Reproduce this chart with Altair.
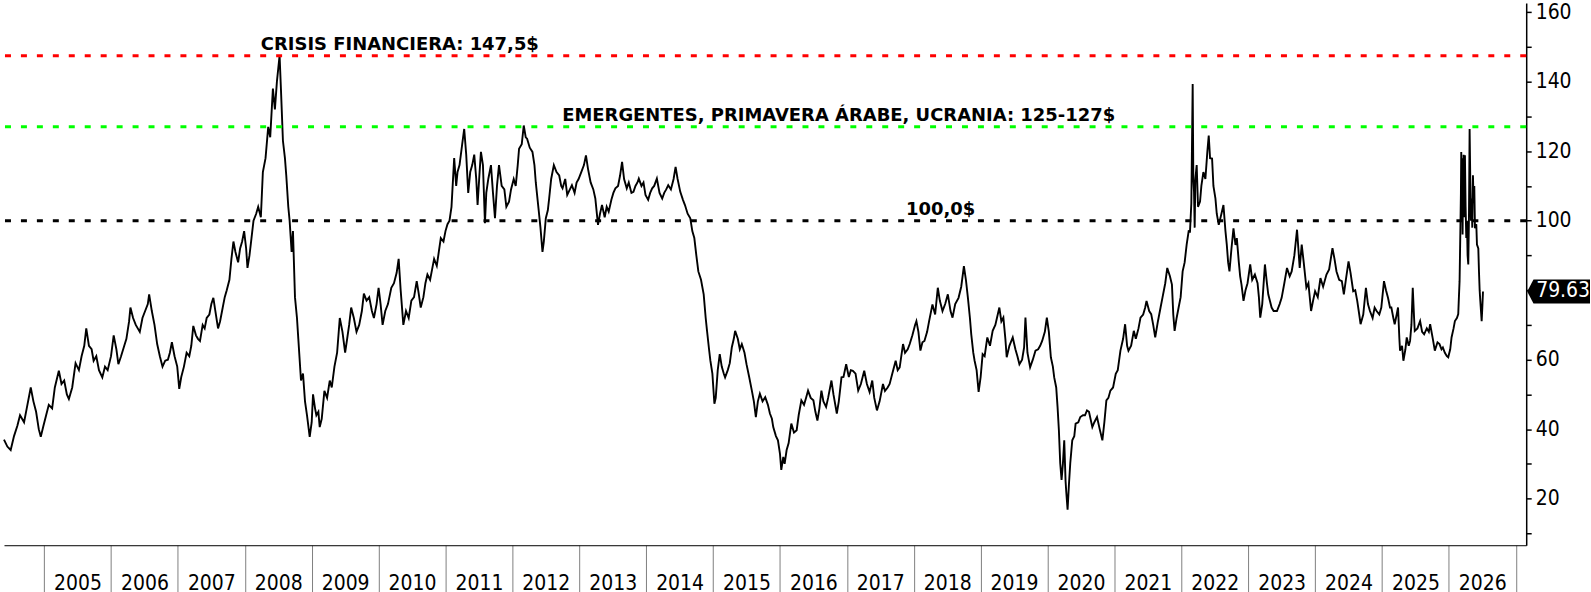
import altair as alt
import pandas as pd

# Brent crude, USD per barrel: (decimal year, price) read at roughly semi-monthly steps
BRENT_2004_2008 = [
    (2004.40, 37), (2004.45, 35), (2004.50, 34), (2004.55, 38), (2004.60, 41), (2004.64, 44),
    (2004.70, 42), (2004.74, 46), (2004.80, 52), (2004.84, 48), (2004.88, 45), (2004.92, 40),
    (2004.95, 37.8), (2004.99, 41), (2005.03, 44), (2005.07, 47), (2005.12, 46), (2005.16, 52),
    (2005.22, 56.8), (2005.26, 53), (2005.30, 54), (2005.34, 50), (2005.37, 48.7), (2005.42, 52),
    (2005.47, 59), (2005.52, 57), (2005.56, 61), (2005.60, 64), (2005.63, 69), (2005.67, 64),
    (2005.71, 63), (2005.74, 59.7), (2005.78, 61), (2005.82, 57), (2005.87, 54.9), (2005.91, 58),
    (2005.95, 57), (2006.00, 61), (2006.04, 67), (2006.08, 63), (2006.11, 58.7), (2006.15, 61),
    (2006.19, 63.5), (2006.23, 66), (2006.27, 71), (2006.29, 75), (2006.33, 72), (2006.37, 70),
    (2006.40, 69), (2006.43, 68), (2006.47, 72), (2006.51, 74), (2006.55, 76), (2006.57, 78.8),
    (2006.61, 74), (2006.65, 70), (2006.69, 64.5), (2006.73, 61), (2006.77, 58), (2006.81, 59.7),
    (2006.85, 60), (2006.88, 62), (2006.91, 65), (2006.95, 61), (2006.99, 58), (2007.02, 51.6),
    (2007.05, 55), (2007.09, 58), (2007.13, 62), (2007.17, 61), (2007.20, 64), (2007.23, 69.7),
    (2007.27, 67), (2007.30, 66), (2007.33, 65.4), (2007.37, 70), (2007.40, 69), (2007.43, 72),
    (2007.47, 73), (2007.50, 76), (2007.53, 77.8), (2007.56, 74), (2007.60, 69), (2007.63, 71),
    (2007.67, 75), (2007.70, 78), (2007.73, 80), (2007.77, 83), (2007.80, 89), (2007.83, 94),
    (2007.86, 91), (2007.90, 88), (2007.93, 92), (2007.96, 94), (2007.99, 97), (2008.02, 92),
    (2008.04, 86.4), (2008.07, 90), (2008.10, 95), (2008.13, 100), (2008.17, 102), (2008.20, 104),
]

BRENT_2008_2012 = [
    (2008.24, 101), (2008.27, 114), (2008.31, 118), (2008.35, 127), (2008.38, 124), (2008.42, 138),
    (2008.45, 132), (2008.48, 140), (2008.52, 147.5), (2008.54, 138), (2008.57, 123), (2008.60, 118),
    (2008.62, 113), (2008.65, 104), (2008.67, 100), (2008.70, 91), (2008.72, 97), (2008.75, 78),
    (2008.78, 72), (2008.80, 66), (2008.84, 54), (2008.87, 56), (2008.90, 48), (2008.93, 44),
    (2008.97, 37.8), (2009.00, 42), (2009.02, 50), (2009.05, 46), (2009.07, 44), (2009.10, 45),
    (2009.12, 40.6), (2009.15, 43), (2009.19, 51), (2009.23, 49), (2009.27, 54), (2009.30, 52),
    (2009.34, 58), (2009.38, 62), (2009.42, 72), (2009.46, 68), (2009.50, 62), (2009.53, 66),
    (2009.56, 70), (2009.59, 75), (2009.63, 72), (2009.67, 68), (2009.71, 70), (2009.75, 74),
    (2009.78, 79), (2009.82, 77), (2009.86, 78), (2009.90, 74), (2009.93, 72), (2009.97, 76),
    (2010.00, 80.7), (2010.03, 76), (2010.06, 70), (2010.10, 74), (2010.14, 76), (2010.19, 80.7),
    (2010.23, 82), (2010.27, 85), (2010.30, 89), (2010.33, 80), (2010.37, 70), (2010.41, 74),
    (2010.45, 72), (2010.49, 77), (2010.53, 78), (2010.57, 82.6), (2010.60, 79), (2010.63, 75),
    (2010.67, 78), (2010.70, 82), (2010.73, 84.5), (2010.77, 83), (2010.80, 86), (2010.83, 89),
    (2010.87, 87), (2010.90, 91), (2010.93, 95), (2010.97, 94), (2011.00, 97), (2011.03, 99),
    (2011.06, 100), (2011.09, 104), (2011.13, 118), (2011.16, 110), (2011.18, 114), (2011.21, 116),
    (2011.25, 122), (2011.28, 126.4), (2011.31, 119), (2011.34, 108), (2011.37, 114), (2011.40, 116),
    (2011.43, 119), (2011.46, 112), (2011.48, 104.5), (2011.51, 114), (2011.53, 119.8), (2011.56, 116),
    (2011.59, 99.3), (2011.61, 108), (2011.64, 112), (2011.68, 116), (2011.71, 108), (2011.74, 100.7),
    (2011.77, 110), (2011.80, 116), (2011.84, 110), (2011.88, 109), (2011.91, 104), (2011.95, 105.5),
    (2011.98, 109),
]

BRENT_2012_2015 = [
    (2012.02, 112), (2012.05, 110), (2012.08, 116), (2012.10, 120.7), (2012.14, 122), (2012.17, 127.4),
    (2012.20, 124), (2012.22, 123.6), (2012.26, 121), (2012.30, 119.8), (2012.33, 116), (2012.35, 111),
    (2012.39, 103.6), (2012.42, 98), (2012.45, 91), (2012.47, 94), (2012.50, 100.7), (2012.53, 103),
    (2012.55, 106.4), (2012.58, 112), (2012.62, 116), (2012.66, 114), (2012.70, 113), (2012.73, 110),
    (2012.75, 109.3), (2012.79, 112), (2012.82, 107.4), (2012.86, 109), (2012.89, 110.2), (2012.93, 108),
    (2012.96, 111), (2012.99, 112), (2013.03, 114), (2013.07, 116), (2013.10, 118.8), (2013.13, 115),
    (2013.17, 111), (2013.21, 109), (2013.24, 106.4), (2013.28, 98.8), (2013.31, 102), (2013.34, 104.5),
    (2013.38, 101), (2013.41, 104), (2013.44, 102.6), (2013.48, 106), (2013.51, 108), (2013.54, 109.3),
    (2013.58, 110), (2013.61, 113), (2013.64, 116.9), (2013.67, 112), (2013.71, 109.3), (2013.74, 111),
    (2013.78, 108), (2013.81, 108.3), (2013.84, 110), (2013.87, 111), (2013.89, 112.1), (2013.93, 110),
    (2013.96, 111), (2013.99, 107.4), (2014.03, 106), (2014.06, 108), (2014.09, 109.3), (2014.12, 110),
    (2014.16, 112.1), (2014.20, 108), (2014.24, 106.4), (2014.27, 108), (2014.30, 109), (2014.33, 110.2),
    (2014.37, 109), (2014.41, 112), (2014.44, 115.5), (2014.47, 112), (2014.51, 108.3), (2014.55, 106),
    (2014.58, 104.5), (2014.62, 102), (2014.66, 100.7), (2014.69, 97), (2014.72, 95), (2014.75, 90),
    (2014.78, 85.4), (2014.82, 83), (2014.86, 78.8), (2014.89, 72), (2014.91, 68.3), (2014.94, 63),
    (2014.96, 59.7), (2014.99, 56), (2015.02, 47.3), (2015.04, 49), (2015.07, 57), (2015.10, 61.6),
    (2015.13, 58), (2015.16, 56), (2015.18, 54.9), (2015.22, 57), (2015.25, 59), (2015.28, 63.5),
    (2015.31, 66), (2015.33, 68.3), (2015.37, 66), (2015.40, 63), (2015.43, 64.5), (2015.47, 62),
    (2015.50, 58.7), (2015.54, 55), (2015.58, 51.1), (2015.61, 48), (2015.64, 43.5), (2015.67, 48),
    (2015.70, 50.2), (2015.74, 48), (2015.78, 49.2),
]

BRENT_2015_2019 = [
    (2015.82, 47), (2015.85, 44.5), (2015.88, 43), (2015.90, 40.6), (2015.94, 38), (2015.97, 36.8),
    (2016.00, 33), (2016.02, 28.3), (2016.05, 32), (2016.07, 30), (2016.10, 34), (2016.13, 36),
    (2016.17, 41.6), (2016.21, 39), (2016.25, 39.7), (2016.28, 44), (2016.32, 48.3), (2016.36, 47),
    (2016.39, 49), (2016.42, 51.1), (2016.46, 49), (2016.50, 48.3), (2016.53, 45), (2016.56, 42.5),
    (2016.59, 46), (2016.62, 51.1), (2016.65, 48), (2016.69, 46.4), (2016.72, 49), (2016.77, 54),
    (2016.80, 50), (2016.85, 44.5), (2016.88, 48), (2016.92, 54.9), (2016.95, 55), (2016.99, 58.7),
    (2017.03, 55), (2017.06, 57), (2017.09, 56.8), (2017.13, 56), (2017.17, 51.1), (2017.21, 53),
    (2017.26, 56.8), (2017.30, 53), (2017.34, 50.7), (2017.38, 54), (2017.41, 49), (2017.45, 45.4),
    (2017.49, 48), (2017.54, 53), (2017.57, 51), (2017.61, 52), (2017.64, 53), (2017.68, 56),
    (2017.73, 59.7), (2017.76, 57), (2017.79, 57.8), (2017.84, 64.5), (2017.87, 62), (2017.91, 63),
    (2017.94, 64.5), (2017.98, 67), (2018.02, 70), (2018.04, 71.1), (2018.07, 68), (2018.10, 62.6),
    (2018.13, 65), (2018.16, 65.4), (2018.20, 68), (2018.23, 71.1), (2018.28, 75.9), (2018.32, 73),
    (2018.36, 80.7), (2018.39, 77), (2018.43, 74), (2018.47, 76), (2018.51, 78.8), (2018.55, 74),
    (2018.58, 72.1), (2018.62, 76), (2018.67, 77.8), (2018.71, 81), (2018.75, 86.9), (2018.78, 83),
    (2018.81, 77.8), (2018.84, 72), (2018.86, 67.3), (2018.89, 62), (2018.91, 59.7), (2018.94, 57),
    (2018.97, 50.7), (2019.00, 55), (2019.03, 61.6), (2019.06, 61), (2019.10, 66.4), (2019.14, 64),
    (2019.18, 68.3), (2019.22, 70), (2019.28, 75), (2019.31, 71), (2019.34, 72.1), (2019.37, 66),
    (2019.39, 60.7), (2019.43, 64), (2019.48, 66.4), (2019.52, 63), (2019.55, 61), (2019.58, 58.7),
]

BRENT_2019_2023 = [
    (2019.62, 60), (2019.65, 63.5), (2019.67, 72.1), (2019.70, 62), (2019.74, 57.8), (2019.78, 60),
    (2019.82, 62.6), (2019.86, 63), (2019.89, 64), (2019.92, 65.4), (2019.96, 68), (2019.99, 72.1),
    (2020.02, 68), (2020.05, 60.7), (2020.08, 58), (2020.10, 54.9), (2020.13, 52), (2020.15, 46.4),
    (2020.17, 39.7), (2020.19, 30.2), (2020.21, 25.4), (2020.23, 30), (2020.25, 36.8), (2020.27, 25),
    (2020.28, 22), (2020.30, 16.8), (2020.32, 24), (2020.34, 30.2), (2020.37, 36.8), (2020.40, 38),
    (2020.42, 41.6), (2020.46, 42), (2020.49, 43.5), (2020.53, 44), (2020.56, 44), (2020.59, 45.4),
    (2020.62, 45), (2020.67, 40.6), (2020.70, 42), (2020.74, 43.5), (2020.78, 40), (2020.82, 36.8),
    (2020.85, 42), (2020.88, 48.3), (2020.91, 49), (2020.94, 51.1), (2020.98, 52), (2021.02, 55.9),
    (2021.05, 57), (2021.09, 62.6), (2021.13, 66), (2021.16, 70.2), (2021.19, 64), (2021.21, 62.6),
    (2021.25, 64), (2021.29, 68.3), (2021.32, 66), (2021.36, 69), (2021.39, 72.1), (2021.43, 73),
    (2021.46, 75), (2021.48, 76.9), (2021.52, 74), (2021.55, 73.1), (2021.58, 70), (2021.61, 66.4),
    (2021.65, 71), (2021.69, 75), (2021.72, 78), (2021.76, 82), (2021.79, 86.4), (2021.83, 84),
    (2021.86, 81.6), (2021.88, 73), (2021.90, 68.3), (2021.93, 72), (2021.96, 75), (2021.99, 78),
    (2022.02, 85.4), (2022.05, 88), (2022.08, 93.1), (2022.11, 97), (2022.13, 96.9), (2022.15, 105),
    (2022.17, 139.3), (2022.18, 112), (2022.19, 108.3), (2022.20, 98), (2022.21, 112), (2022.23, 116),
    (2022.25, 104), (2022.28, 105.5), (2022.30, 110), (2022.33, 114), (2022.36, 112), (2022.39, 120),
    (2022.41, 124.5), (2022.43, 118), (2022.46, 117.9), (2022.48, 110), (2022.51, 106.4), (2022.53, 102),
    (2022.56, 98.8), (2022.60, 102), (2022.63, 104.5), (2022.66, 97), (2022.68, 93.1), (2022.70, 88),
    (2022.72, 85.4), (2022.75, 92), (2022.78, 97.8), (2022.81, 93), (2022.83, 95), (2022.86, 88),
    (2022.88, 84), (2022.90, 81.6), (2022.93, 76.9), (2022.96, 80), (2022.99, 82), (2023.03, 87.4),
    (2023.06, 83), (2023.10, 84.5), (2023.14, 82), (2023.16, 78), (2023.18, 72.1), (2023.21, 76),
    (2023.25, 87.4), (2023.28, 82), (2023.30, 78.8), (2023.35, 75), (2023.38, 74),
]

BRENT_2023_2026 = [
    (2023.43, 74), (2023.47, 76), (2023.50, 77.8), (2023.54, 82), (2023.58, 86.4), (2023.62, 84),
    (2023.65, 85.4), (2023.69, 90), (2023.73, 97.4), (2023.75, 92), (2023.77, 86.4), (2023.80, 93.1),
    (2023.83, 88), (2023.87, 80.7), (2023.90, 82), (2023.94, 74), (2023.97, 77), (2024.00, 79.7),
    (2024.04, 78), (2024.08, 83.5), (2024.12, 81), (2024.17, 84.5), (2024.21, 86), (2024.26, 92.1),
    (2024.29, 89), (2024.32, 85.4), (2024.36, 83), (2024.40, 82.6), (2024.43, 78.8), (2024.46, 83),
    (2024.50, 88.3), (2024.53, 85), (2024.57, 79.7), (2024.60, 80), (2024.63, 76.9), (2024.66, 73),
    (2024.68, 70.2), (2024.72, 73), (2024.76, 80.7), (2024.79, 76), (2024.82, 74), (2024.86, 72),
    (2024.89, 75), (2024.92, 74), (2024.96, 73), (2024.99, 75), (2025.03, 82.6), (2025.06, 80),
    (2025.09, 77.8), (2025.12, 75), (2025.14, 75), (2025.17, 72), (2025.19, 70.2), (2025.22, 73),
    (2025.24, 75), (2025.26, 66), (2025.27, 62.6), (2025.30, 64), (2025.32, 59.7), (2025.35, 63),
    (2025.37, 66.4), (2025.40, 64), (2025.42, 65.4), (2025.44, 70), (2025.46, 80.7), (2025.48, 72),
    (2025.49, 68.3), (2025.53, 69), (2025.57, 71.1), (2025.60, 68), (2025.63, 67.3), (2025.67, 69),
    (2025.70, 68), (2025.72, 70.2), (2025.76, 66), (2025.79, 62.6), (2025.83, 65), (2025.86, 64.5),
    (2025.89, 63), (2025.91, 63.5), (2025.94, 62), (2025.97, 61), (2025.99, 60.7), (2026.02, 63),
    (2026.04, 66.4), (2026.07, 69), (2026.09, 71.1), (2026.12, 72), (2026.14, 73.1), (2026.15, 78),
    (2026.16, 82.6), (2026.17, 95), (2026.18, 108), (2026.185, 119.8), (2026.19, 100), (2026.20, 118),
    (2026.205, 96), (2026.21, 106.4), (2026.22, 119), (2026.23, 101), (2026.24, 118.8), (2026.25, 104),
    (2026.26, 95), (2026.27, 100), (2026.28, 90), (2026.29, 87.4), (2026.30, 100.7), (2026.31, 126.4),
    (2026.32, 112), (2026.33, 100), (2026.34, 106.4), (2026.35, 98), (2026.36, 113.1), (2026.37, 105),
    (2026.38, 110), (2026.39, 97.8), (2026.41, 99), (2026.42, 93.1), (2026.44, 92), (2026.45, 85.4),
    (2026.46, 80), (2026.47, 76.9), (2026.48, 74), (2026.49, 71.1), (2026.50, 75), (2026.51, 79.63),
]

SEGMENTS = [BRENT_2004_2008, BRENT_2008_2012, BRENT_2012_2015,
            BRENT_2015_2019, BRENT_2019_2023, BRENT_2023_2026]

# Reference levels and their notes
LEVELS = [147.5, 127.0, 100.0]
LEVEL_COLORS = ["#ff0000", "#00ff00", "#000000"]
NOTES = ["CRISIS FINANCIERA: 147,5$",
         "EMERGENTES, PRIMAVERA ÁRABE, UCRANIA: 125-127$",
         "100,0$"]
NOTE_AT = [2008.24, 2012.745, 2017.886]

YEAR_EDGES = list(range(2005, 2028))
Y_TICKS = list(range(10, 170, 10))

W, H = 1527, 544
X_DOMAIN = [2004.40, 2027.156]
Y_DOMAIN = [6.6, 162.67]
HALF_YEAR_PX = W / (X_DOMAIN[1] - X_DOMAIN[0]) / 2

AXIS_FONT = "DejaVu Sans Condensed, DejaVu Sans"
NOTE_FONT = "DejaVu Sans"
AXIS_SIZE = 21

rows = [{"t": t, "v": v} for seg in SEGMENTS for t, v in seg]
prices = pd.DataFrame(rows)
last_price = rows[-1]["v"]

levels = pd.DataFrame({"v": LEVELS, "c": LEVEL_COLORS})
notes = pd.DataFrame({"t": NOTE_AT, "v": LEVELS, "label": NOTES})
last = pd.DataFrame({"v": [last_price], "label": [f"{last_price:.2f}"]})

xs = alt.Scale(domain=X_DOMAIN, nice=False, zero=False)
ys = alt.Scale(domain=Y_DOMAIN, nice=False, zero=False)

x_axis = alt.Axis(
    values=YEAR_EDGES, title=None, grid=False,
    tickSize=48, tickColor="#808080", tickWidth=1,
    domainColor="#000000", domainWidth=1,
    labelExpr="datum.value < 2027 ? format(datum.value, 'd') : ''",
    labelOffset=HALF_YEAR_PX, labelBaseline="alphabetic", labelPadding=-4,
    labelFont=AXIS_FONT, labelFontSize=AXIS_SIZE, labelColor="#000000",
    labelFlush=False, labelOverlap=False, labelBound=False,
)

y_axis = alt.Axis(
    orient="right", values=Y_TICKS, title=None, grid=False,
    domainColor="#000000", domainWidth=1.5,
    tickColor="#000000", tickSize=5, tickWidth=1.5,
    labelExpr="datum.value % 20 === 0 ? format(datum.value, 'd') : ''",
    labelPadding=4, labelFont=AXIS_FONT, labelFontSize=AXIS_SIZE, labelColor="#000000",
    labelFlush=False, labelOverlap=False,
)

X = alt.X("t:Q", scale=xs, axis=x_axis)
Y = alt.Y("v:Q", scale=ys, axis=y_axis)

line = alt.Chart(prices).mark_line(color="#000000", strokeWidth=1.9, strokeJoin="miter").encode(
    x=X, y=Y, order="t:Q",
)

rules = alt.Chart(levels).mark_rule(strokeWidth=3, strokeDash=[6, 10]).encode(
    y=Y,
    color=alt.Color("c:N", scale=None),
)

note_text = alt.Chart(notes).mark_text(
    align="left", baseline="alphabetic", dy=-6,
    font=NOTE_FONT, fontSize=18, fontWeight="bold", color="#000000",
).encode(x=X, y=Y, text="label:N")

# Last-price tag on the right axis: a black arrow-box with the value in white
TAG_SHAPE = "M -1 0 L -0.8 -0.381 L 1 -0.381 L 1 0.381 L -0.8 0.381 Z"
tag = alt.Chart(last).mark_point(
    shape=TAG_SHAPE, size=3969, filled=True, color="#000000", opacity=1, strokeWidth=0,
).encode(x=alt.value(W + 32.5), y=Y)

tag_text = alt.Chart(last).mark_text(
    align="left", baseline="middle", font=AXIS_FONT, fontSize=AXIS_SIZE, color="#ffffff",
).encode(x=alt.value(W + 10), y=Y, text="label:N")

chart = alt.layer(line, rules, note_text, tag, tag_text).properties(
    width=W, height=H,
    padding={"left": 0, "top": 0, "right": 0, "bottom": 0},
    background="#ffffff",
).configure_view(strokeWidth=0)

chart.save("out.html", embed_options={"renderer": "svg", "actions": False})
